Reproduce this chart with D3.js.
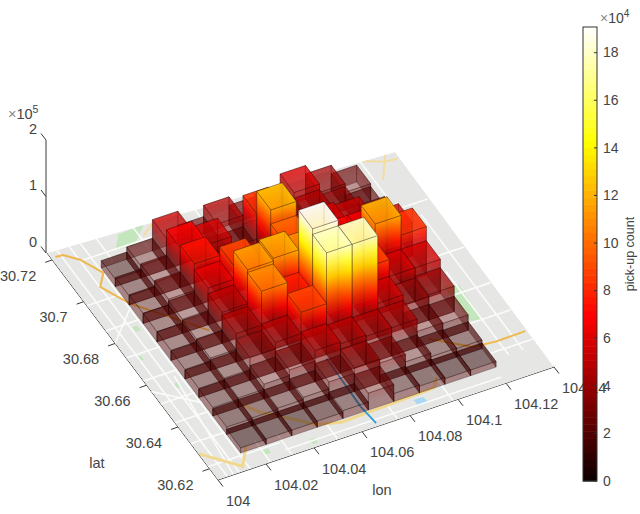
<!DOCTYPE html>
<html>
<head>
<meta charset="utf-8">
<script src="https://cdn.jsdelivr.net/npm/d3@7"></script>
<style>
	html, body { margin: 0; padding: 0; background: #fff; }
	text { font-family: "Liberation Sans", Arial, sans-serif; fill: #444; }
</style>
</head>
<body>
<div id="chart"></div>
<script>
// bin edges of the 10 x 10 histogram
let lonEdges = [104.0143, 104.0249, 104.0356, 104.0462, 104.0569, 104.0675, 104.0781, 104.0888, 104.0994, 104.1101, 104.1207];
let latEdges = [30.6220, 30.6309, 30.6397, 30.6486, 30.6574, 30.6663, 30.6752, 30.6840, 30.6929, 30.7017, 30.7106];

// pick-up counts in units of 10^4, one row per lat bin (south to north), one column per lon bin
let pickups = [
	[0.9, 1.0, 1.0, 1.1, 1.4, 3.0, 1.4, 1.2, 1.0, 1.0],
	[1.3, 1.4, 1.6, 2.0, 3.2, 4.2, 3.5, 2.2, 1.6, 1.5],
	[1.5, 1.7, 2.6, 3.6, 5.5, 5.2, 5.0, 5.0, 2.8, 2.7],
	[1.6, 1.9, 4.0, 5.2, 9.0, 18.0, 18.0, 6.0, 4.2, 4.5],
	[1.7, 2.2, 5.0, 11.0, 8.0, 19.0, 12.0, 9.0, 6.0, 6.0],
	[1.8, 2.3, 5.5, 11.5, 12.0, 11.0, 9.0, 8.0, 12.0, 8.5],
	[1.8, 2.5, 6.5, 9.0, 6.0, 10.0, 8.0, 7.0, 7.0, 6.0],
	[1.8, 2.8, 7.5, 4.0, 4.0, 12.5, 6.0, 6.0, 5.5, 4.0],
	[1.6, 2.5, 7.0, 6.0, 3.0, 8.5, 4.5, 5.0, 4.0, 2.5],
	[1.3, 2.2, 5.5, 3.0, 5.0, 3.5, 4.0, 6.0, 4.5, 3.0]
];

let lonTicks = [104, 104.02, 104.04, 104.06, 104.08, 104.1, 104.12, 104.14];
let lonTickLabels = ["104", "104.02", "104.04", "104.06", "104.08", "104.1", "104.12", "104.14"];
let latTicks = [30.62, 30.64, 30.66, 30.68, 30.7, 30.72];
let latTickLabels = ["30.62", "30.64", "30.66", "30.68", "30.7", "30.72"];
let zTicks = [0, 1, 2];
let colorTicks = [0, 2, 4, 6, 8, 10, 12, 14, 16, 18];
let colorMax = 19.08;

// basemap, all in lon/lat
let mapExtentLon = [104, 104.14];
let mapExtentLat = [30.6146, 30.7233];
let mapOutline = [[104, 30.6146], [104.14, 30.6146], [104.141, 30.7172], [104, 30.7233]];
let mapRingRoads = [
	[[104.0018, 30.7207], [104.0048, 30.7205], [104.0093, 30.7165], [104.0138, 30.7085], [104.0092, 30.7035], [104.0147, 30.6936], [104.0346, 30.6729]],
	[[104.1054, 30.6414], [104.1089, 30.6391], [104.1180, 30.6327], [104.1269, 30.6318], [104.1394, 30.6320]]
];
let mapYellowRoads = [
	[[104.0003, 30.6270], [104.0116, 30.6166], [104.0179, 30.6241]],
	[[104.0266, 30.6405], [104.0312, 30.6348], [104.0408, 30.6278], [104.0462, 30.6233], [104.0554, 30.6208], [104.0918, 30.6219], [104.0950, 30.6222], [104.0984, 30.6258]]
];
let mapBackRoads = [
	[[104.0364, 30.7175], [104.0434, 30.7215], [104.0742, 30.7210], [104.1023, 30.7215], [104.1243, 30.7194], [104.1351, 30.7148], [104.1400, 30.7143]],
	[[104.1400, 30.7215], [104.1351, 30.7148], [104.1300, 30.7080]]
];
let mapParks = [
	[[104.0284, 30.7212], [104.0396, 30.7220], [104.0310, 30.7150], [104.0237, 30.7158]],
	[[104.0098, 30.6840], [104.0118, 30.6840], [104.0118, 30.6818], [104.0098, 30.6818]],
	[[104.0036, 30.6720], [104.0055, 30.6720], [104.0055, 30.6700], [104.0036, 30.6700]],
	[[104.0094, 30.6570], [104.0114, 30.6570], [104.0114, 30.6550], [104.0094, 30.6550]],
	[[104.0215, 30.6202], [104.0245, 30.6202], [104.0245, 30.6182], [104.0215, 30.6182]],
	[[104.0405, 30.6182], [104.0427, 30.6182], [104.0427, 30.6162], [104.0405, 30.6162]],
	[[104.1235, 30.6600], [104.1290, 30.6580], [104.1280, 30.6420], [104.1235, 30.6430]]
];
let mapRiver = [[104.0665, 30.6471], [104.0658, 30.6243], [104.0668, 30.6160]];
let mapLake = [[104.0850, 30.6200], [104.0890, 30.6200], [104.0895, 30.6172], [104.0852, 30.6172]];
let mapStreets = [
	[[104.004, 30.615], [104.004, 30.723]], [[104.009, 30.615], [104.009, 30.723]],
	[[104.0135, 30.615], [104.0135, 30.723]], [[104.022, 30.615], [104.022, 30.625]],
	[[104.031, 30.615], [104.031, 30.625]], [[104.050, 30.615], [104.050, 30.622]],
	[[104.075, 30.615], [104.075, 30.622]], [[104.098, 30.615], [104.098, 30.628]],
	[[104.128, 30.625], [104.128, 30.665]], [[104.134, 30.625], [104.134, 30.690]],
	[[104.127, 30.680], [104.127, 30.723]], [[104.035, 30.712], [104.035, 30.723]],
	[[104.020, 30.712], [104.020, 30.723]], [[104.060, 30.712], [104.060, 30.723]],
	[[104, 30.621], [104.03, 30.621]], [[104, 30.632], [104.0143, 30.632]],
	[[104, 30.642], [104.0143, 30.642]], [[104, 30.651], [104.0143, 30.651]],
	[[104, 30.662], [104.0143, 30.662]], [[104, 30.673], [104.0143, 30.673]],
	[[104, 30.686], [104.0143, 30.686]], [[104, 30.698], [104.0143, 30.698]],
	[[104.01, 30.716], [104.08, 30.716]], [[104.122, 30.628], [104.14, 30.628]],
	[[104.122, 30.642], [104.14, 30.642]], [[104.122, 30.655], [104.14, 30.655]],
	[[104.122, 30.672], [104.14, 30.672]], [[104.122, 30.695], [104.14, 30.695]],
	[[104.03, 30.6175], [104.12, 30.6175]], [[104.0065, 30.615], [104.0115, 30.66]],
	[[104, 30.657], [104.0143, 30.646]], [[104, 30.68], [104.0143, 30.692]]
];

let width = 640, height = 514;
let svg = d3.select("#chart").append("svg")
	.attr("width", width)
	.attr("height", height)
	.style("display", "block");
let defs = svg.append("defs");
defs.append("filter").attr("id", "soft")
	.append("feGaussianBlur").attr("stdDeviation", 0.5);

// ground plane: flat projection from the two axes, z goes straight up
let lonT = d3.scaleLinear().domain(mapExtentLon).range([0, 1]);
let latT = d3.scaleLinear().domain(mapExtentLat).range([0, 1]);
let cornerB = [218, 480], cornerR = [554, 367], cornerL = [47, 253];
let zY = d3.scaleLinear().domain([0, 20]).range([0, 113]);

function ground(lon, lat) {
	let a = lonT(lon), b = latT(lat);
	return [
		cornerB[0] + a * (cornerR[0] - cornerB[0]) + b * (cornerL[0] - cornerB[0]),
		cornerB[1] + a * (cornerR[1] - cornerB[1]) + b * (cornerL[1] - cornerB[1])
	];
}
function pt(lon, lat, z) {
	let g = ground(lon, lat);
	return [g[0], g[1] - zY(z)];
}
let groundLine = d3.line().x(d => ground(d[0], d[1])[0]).y(d => ground(d[0], d[1])[1]);

// hot colormap, 64 levels like the colorbar
function hot(t) {
	let r = Math.min(1, 0.0416 + t / 0.365 * 0.9584);
	let g = Math.max(0, Math.min(1, (t - 0.365) / 0.381));
	let b = Math.max(0, Math.min(1, (t - 0.746) / 0.254));
	return d3.rgb(r * 255, g * 255, b * 255).formatHex();
}

// axes go first, the map and the colorbar paint over them
let axisColor = "#3a3a3a";
let axes = svg.append("g");
let zAxisX = cornerL[0] - 1;
let zAxisY = d3.scaleLinear().domain([0, 2]).range([cornerL[1], 140]);

axes.append("line")
	.attr("x1", zAxisX).attr("x2", zAxisX)
	.attr("y1", zAxisY(0)).attr("y2", zAxisY(2))
	.attr("stroke", axisColor);
axes.selectAll(".ztick").data(zTicks).join("line")
	.attr("x1", zAxisX).attr("y1", d => zAxisY(d))
	.attr("x2", zAxisX - 5).attr("y2", d => zAxisY(d) - 6.5)
	.attr("stroke", axisColor);
axes.selectAll(".zlabel").data(zTicks).join("text")
	.attr("x", 33).attr("y", d => zAxisY(d) - 10)
	.attr("text-anchor", "middle").attr("dominant-baseline", "middle")
	.attr("font-size", 14.5)
	.text(d => d);
let zExp = axes.append("text").attr("x", 8).attr("y", 119).attr("font-size", 14.5);
zExp.append("tspan").style("fill", "#888").text("×");
zExp.append("tspan").text("10");
zExp.append("tspan").attr("dy", -6).attr("font-size", 10.5).text("5");

// lon axis
axes.append("line")
	.attr("x1", cornerB[0]).attr("y1", cornerB[1])
	.attr("x2", cornerR[0]).attr("y2", cornerR[1])
	.attr("stroke", axisColor);
axes.selectAll(".lontick").data(lonTicks).join("line")
	.attr("x1", d => ground(d, mapExtentLat[0])[0]).attr("y1", d => ground(d, mapExtentLat[0])[1])
	.attr("x2", d => ground(d, mapExtentLat[0])[0] + 5).attr("y2", d => ground(d, mapExtentLat[0])[1] + 6.5)
	.attr("stroke", axisColor);
axes.selectAll(".lonlabel").data(lonTicks).join("text")
	.attr("x", d => ground(d, mapExtentLat[0])[0] + 8)
	.attr("y", d => ground(d, mapExtentLat[0])[1] + 22)
	.attr("dominant-baseline", "middle")
	.attr("font-size", 14.5)
	.text((d, i) => lonTickLabels[i]);
axes.append("text").attr("x", 382).attr("y", 491)
	.attr("text-anchor", "middle").attr("dominant-baseline", "middle")
	.attr("font-size", 14.5).text("lon");

// lat axis
axes.append("line")
	.attr("x1", cornerB[0]).attr("y1", cornerB[1])
	.attr("x2", cornerL[0]).attr("y2", cornerL[1])
	.attr("stroke", axisColor);
axes.selectAll(".lattick").data(latTicks).join("line")
	.attr("x1", d => ground(mapExtentLon[0], d)[0]).attr("y1", d => ground(mapExtentLon[0], d)[1])
	.attr("x2", d => ground(mapExtentLon[0], d)[0] - 7).attr("y2", d => ground(mapExtentLon[0], d)[1] + 2.5)
	.attr("stroke", axisColor);
axes.selectAll(".latlabel").data(latTicks).join("text")
	.attr("x", d => ground(mapExtentLon[0], d)[0] - 16)
	.attr("y", d => ground(mapExtentLon[0], d)[1] + 17)
	.attr("text-anchor", "end").attr("dominant-baseline", "middle")
	.attr("font-size", 14.5)
	.text((d, i) => latTickLabels[i]);
axes.append("text").attr("x", 97).attr("y", 464)
	.attr("text-anchor", "middle").attr("dominant-baseline", "middle")
	.attr("font-size", 14.5).text("lat");

// basemap
let mapG = svg.append("g").attr("filter", "url(#soft)");
defs.append("clipPath").attr("id", "mapclip").append("path").attr("d", groundLine(mapOutline) + "Z");
let mapInner = mapG.append("g").attr("clip-path", "url(#mapclip)");
mapInner.append("path").attr("d", groundLine(mapOutline) + "Z").attr("fill", "#e6e6e4");
mapInner.selectAll(".park").data(mapParks).join("path")
	.attr("d", d => groundLine(d) + "Z").attr("fill", "#c4e6bc");
mapInner.append("path").attr("d", groundLine(mapLake) + "Z").attr("fill", "#a9d9f2");
mapInner.selectAll(".street").data(mapStreets).join("path")
	.attr("d", groundLine).attr("fill", "none").attr("stroke", "#fbfbfb").attr("stroke-width", 1.6);
mapInner.selectAll(".back").data(mapBackRoads).join("path")
	.attr("d", groundLine).attr("fill", "none").attr("stroke", "#f3dca0").attr("stroke-width", 2);
mapInner.selectAll(".yellow").data(mapYellowRoads).join("path")
	.attr("d", groundLine).attr("fill", "none").attr("stroke", "#f2d88c").attr("stroke-width", 3);
mapInner.selectAll(".ring").data(mapRingRoads).join("path")
	.attr("d", groundLine).attr("fill", "none").attr("stroke", "#eeb850").attr("stroke-width", 2);
mapInner.append("path").attr("d", groundLine(mapRiver))
	.attr("fill", "none").attr("stroke", "#2f9fd6").attr("stroke-width", 1.8);

// bars, one set of faces each, painted back to front
let faces = [];
let bars = [];
pickups.forEach((row, j) => row.forEach((v, i) => bars.push({i: i, j: j, v: v})));
bars.sort((p, q) => (q.i + q.j) - (p.i + p.j));

bars.forEach(b => {
	let x0 = lonEdges[b.i], x1 = lonEdges[b.i + 1], y0 = latEdges[b.j], y1 = latEdges[b.j + 1];
	let c = [[x0, y0], [x1, y0], [x1, y1], [x0, y1]];
	// back faces, then the two near ones
	[[2, 3], [1, 2], [3, 0], [0, 1]].forEach(e => {
		faces.push({type: "side", a: c[e[0]], b: c[e[1]], v: b.v, id: "g" + faces.length});
	});
	faces.push({type: "top", corners: c, v: b.v, id: "g" + faces.length});
});

function facePath(f) {
	let p;
	if (f.type == "top") {
		p = f.corners.map(d => pt(d[0], d[1], f.v));
	} else {
		p = [pt(f.a[0], f.a[1], 0), pt(f.b[0], f.b[1], 0), pt(f.b[0], f.b[1], f.v), pt(f.a[0], f.a[1], f.v)];
	}
	return d3.line()(p) + "Z";
}

// opacity: the very lowest tops are greyer, then it climbs with height
let topAlpha = d3.scaleLinear().domain([0.9, 1.5, 2.5, 9, 18]).range([0.52, 0.42, 0.32, 0.72, 0.72]).clamp(true);
let wallAlpha = d3.scaleLinear().domain([1.5, 9, 18]).range([0.42, 0.74, 0.86]).clamp(true);

// gradient on a wall: level lines follow the wall's ground edge
let sideFaces = faces.filter(f => f.type == "side");
let grads = defs.selectAll("linearGradient").data(sideFaces).join("linearGradient")
	.attr("id", d => d.id)
	.attr("gradientUnits", "userSpaceOnUse")
	.each(function(d) {
		let p0 = pt(d.a[0], d.a[1], 0), p1 = pt(d.b[0], d.b[1], 0);
		let ex = p1[0] - p0[0], ey = p1[1] - p0[1], len = Math.hypot(ex, ey);
		let nx = -ey / len, ny = ex / len;
		let h = zY(d.v), dot = -h * ny;
		d3.select(this)
			.attr("x1", p0[0]).attr("y1", p0[1])
			.attr("x2", p0[0] + dot * nx).attr("y2", p0[1] + dot * ny);
	});
grads.selectAll("stop").data(d => d3.range(0, 1.0001, 0.125).map(s => ({s: s, v: d.v}))).join("stop")
	.attr("offset", d => d.s)
	// walls never reach black at their foot, they stay a dark red
	.attr("stop-color", d => hot(Math.max(d.s * d.v, 2) / colorMax))
	.attr("stop-opacity", d => wallAlpha(d.s * d.v));

let barsG = svg.append("g").attr("filter", "url(#soft)");
barsG.selectAll("path").data(faces).join("path")
	.attr("d", facePath)
	.attr("fill", d => d.type == "top" ? hot(d.v / colorMax) : "url(#" + d.id + ")")
	.attr("fill-opacity", d => d.type == "top" ? topAlpha(d.v) : 1)
	.attr("stroke", "#1a0a08")
	.attr("stroke-opacity", 0.4)
	.attr("stroke-width", 0.7);

// colorbar
let cbX = 583, cbW = 14;
let cbY = d3.scaleLinear().domain([0, colorMax]).range([481, 27]);
let levels = d3.range(64);
svg.append("g").selectAll("rect").data(levels).join("rect")
	.attr("x", cbX)
	.attr("width", cbW)
	.attr("y", d => cbY((d + 1) / 64 * colorMax))
	.attr("height", d => cbY(d / 64 * colorMax) - cbY((d + 1) / 64 * colorMax) + 0.5)
	.attr("fill", d => hot((d + 0.5) / 64));
svg.append("rect")
	.attr("x", cbX).attr("y", cbY(colorMax))
	.attr("width", cbW).attr("height", cbY(0) - cbY(colorMax))
	.attr("fill", "none").attr("stroke", "#333");
svg.selectAll(".cbtick").data(colorTicks).join("line")
	.attr("x1", cbX + cbW - 3).attr("x2", cbX + cbW)
	.attr("y1", d => cbY(d)).attr("y2", d => cbY(d))
	.attr("stroke", "#333");
svg.selectAll(".cblabel").data(colorTicks).join("text")
	.attr("x", 603).attr("y", d => cbY(d) + 1)
	.attr("dominant-baseline", "middle")
	.attr("font-size", 14)
	.text(d => d);
let cbExp = svg.append("text").attr("x", 600).attr("y", 23).attr("font-size", 14);
cbExp.append("tspan").style("fill", "#888").text("×");
cbExp.append("tspan").text("10");
cbExp.append("tspan").attr("dy", -6).attr("font-size", 10).text("4");
svg.append("text")
	.attr("transform", "translate(631,254) rotate(-90)")
	.attr("text-anchor", "middle").attr("dominant-baseline", "middle")
	.attr("font-size", 12.5)
	.text("pick-up count");
</script>
</body>
</html>
